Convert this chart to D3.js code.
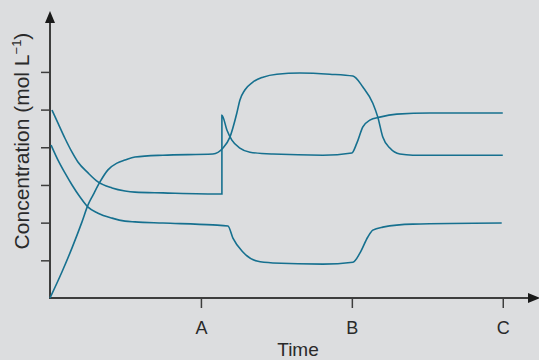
<!DOCTYPE html>
<html>
<head>
<meta charset="utf-8">
<script src="https://cdn.jsdelivr.net/npm/d3@7"></script>
<style>
  html, body { margin: 0; padding: 0; background: #dcdddf; }
  svg { display: block; }
</style>
</head>
<body>
<div class="chart"></div>
<script>
// time ticks and labels
const xTicks = [1, 2, 3]
const xLabels = ["A", "B", "C"]
const yTicks = [1, 2, 3, 4, 5, 6]

// [time, concentration]
const product = [
  [0.000, 0.00], [0.079, 0.69], [0.146, 1.33], [0.212, 2.02], [0.252, 2.47],
  [0.285, 2.73], [0.331, 3.08], [0.384, 3.40], [0.444, 3.58], [0.497, 3.66],
  [0.563, 3.74], [0.748, 3.79], [1.079, 3.82], [1.146, 3.98], [1.192, 4.27],
  [1.238, 4.91], [1.258, 5.25], [1.291, 5.52], [1.344, 5.73], [1.411, 5.86],
  [1.503, 5.94], [1.656, 5.97], [1.854, 5.94], [2.007, 5.89], [2.073, 5.60],
  [2.139, 5.17], [2.172, 4.80], [2.205, 4.27], [2.252, 3.98], [2.318, 3.82],
  [2.404, 3.79], [3.000, 3.79]
]
const reactantAdded = [
  [0.013, 4.99], [0.053, 4.64], [0.099, 4.24], [0.146, 3.87], [0.185, 3.61],
  [0.252, 3.32], [0.318, 3.08], [0.411, 2.92], [0.497, 2.84], [0.563, 2.81],
  [0.748, 2.79], [1.139, 2.76], [1.139, 4.85], [1.172, 4.46], [1.205, 4.19],
  [1.258, 3.98], [1.325, 3.87], [1.477, 3.82], [1.808, 3.79], [2.000, 3.85],
  [2.033, 4.11], [2.073, 4.54], [2.119, 4.72], [2.185, 4.80], [2.298, 4.88],
  [2.517, 4.91], [3.000, 4.91]
]
const reactantOther = [
  [0.007, 4.06], [0.053, 3.66], [0.099, 3.32], [0.146, 3.00], [0.199, 2.68],
  [0.252, 2.41], [0.318, 2.25], [0.411, 2.12], [0.497, 2.04], [0.563, 2.02],
  [0.748, 1.99], [1.079, 1.94], [1.179, 1.91], [1.212, 1.59], [1.278, 1.22],
  [1.371, 0.98], [1.477, 0.93], [1.808, 0.90], [2.007, 0.95], [2.053, 1.19],
  [2.106, 1.62], [2.139, 1.80], [2.205, 1.88], [2.404, 1.96], [2.993, 1.99]
]

const W = 539, H = 360
const ox = 50, oy = 298

const svg = d3.select(".chart")
  .append("svg")
  .attr("width", W)
  .attr("height", H)

svg.append("rect").attr("width", W).attr("height", H).attr("fill", "#dcdddf")

const x = d3.scaleLinear().domain([0, 3.24]).range([ox, 539])
const y = d3.scaleLinear().domain([0, 7.59]).range([oy, 12])

const axisCol = "#3d3d3d"
const textCol = "#2a2a2a"

// y ticks (no labels)
const yAxis = svg.append("g")
  .attr("transform", `translate(${ox},0)`)
  .call(d3.axisLeft(y).tickValues(yTicks).tickFormat("").tickSize(9).tickSizeOuter(0))
yAxis.select(".domain").remove()
yAxis.selectAll(".tick line").attr("stroke", axisCol).attr("stroke-width", 1.5)

// x ticks with A B C
const xAxis = svg.append("g")
  .attr("transform", `translate(0,${oy})`)
  .call(d3.axisBottom(x).tickValues(xTicks).tickFormat((d, i) => xLabels[i]).tickSize(10).tickSizeOuter(0).tickPadding(13))
xAxis.select(".domain").remove()
xAxis.selectAll(".tick line").attr("stroke", axisCol).attr("stroke-width", 1.5)
xAxis.selectAll(".tick text")
  .attr("fill", textCol)
  .attr("font-family", "Liberation Sans, Arial, sans-serif")
  .attr("font-size", "18px")

// axis lines with arrow heads
svg.append("line")
  .attr("x1", ox).attr("y1", oy + 1).attr("x2", ox).attr("y2", 20)
  .attr("stroke", axisCol).attr("stroke-width", 2)
svg.append("path")
  .attr("d", `M${ox},11 L${ox - 5},23 L${ox + 5},23 Z`)
  .attr("fill", "#1a1a1a")
svg.append("line")
  .attr("x1", ox - 1).attr("y1", oy).attr("x2", 532).attr("y2", oy)
  .attr("stroke", axisCol).attr("stroke-width", 2)
svg.append("path")
  .attr("d", `M540,${oy} L528,${oy - 5} L528,${oy + 5} Z`)
  .attr("fill", "#1a1a1a")

// curves
const line = d3.line()
  .x(d => x(d[0]))
  .y(d => y(d[1]))
  .curve(d3.curveMonotoneX)

svg.append("g")
  .selectAll("path")
  .data([product, reactantAdded, reactantOther])
  .join("path")
  .attr("d", line)
  .attr("fill", "none")
  .attr("stroke", "#16708f")
  .attr("stroke-width", 1.6)

// axis titles
svg.append("text")
  .attr("x", 298)
  .attr("y", 356)
  .attr("text-anchor", "middle")
  .attr("fill", textCol)
  .attr("font-family", "Liberation Sans, Arial, sans-serif")
  .attr("font-size", "19px")
  .text("Time")

const yTitle = svg.append("text")
  .attr("transform", "translate(29,141) rotate(-90)")
  .attr("text-anchor", "middle")
  .attr("fill", textCol)
  .attr("font-family", "Liberation Sans, Arial, sans-serif")
  .attr("font-size", "21px")
yTitle.append("tspan").text("Concentration (mol L")
yTitle.append("tspan").attr("dy", -8).attr("font-size", "13px").text("\u22121")
yTitle.append("tspan").attr("dy", 8).text(")")
</script>
</body>
</html>
